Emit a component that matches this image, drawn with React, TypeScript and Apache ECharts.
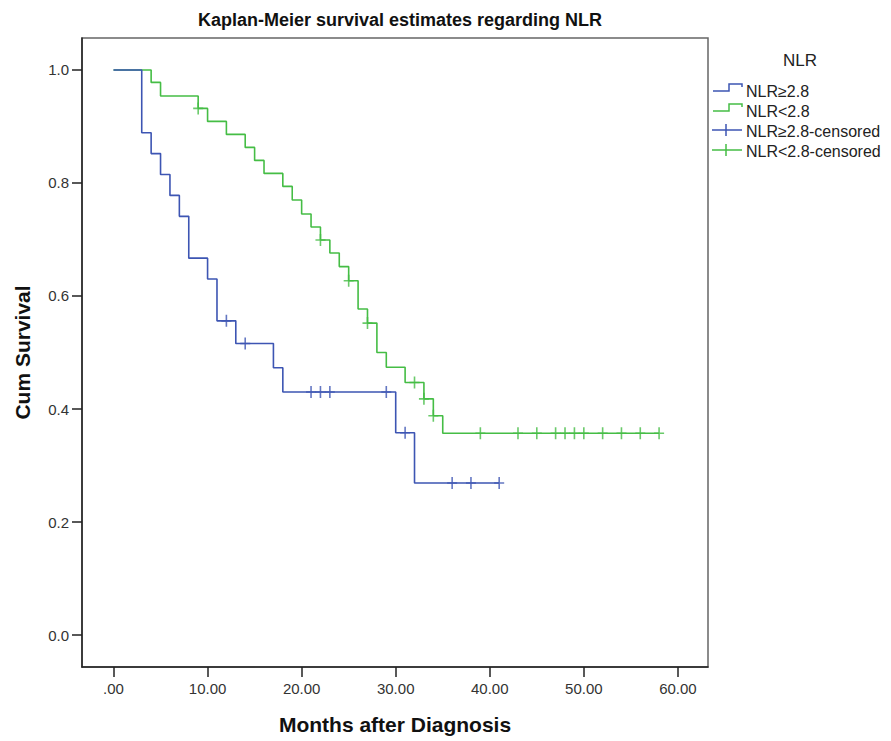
import React, { useEffect, useRef } from "react";
import * as echarts from "echarts";

const xTicks = [0, 10, 20, 30, 40, 50, 60];
const yTicks = [0, 0.2, 0.4, 0.6, 0.8, 1.0];

const chartTitle = "Kaplan-Meier survival estimates regarding NLR";
const xTitle = "Months after Diagnosis";
const yTitle = "Cum Survival";
const legendTitle = "NLR";

const highName = "NLR≥2.8";
const highTimes = [0, 3, 4, 5, 6, 7, 8, 10, 11, 13, 17, 18, 30, 32, 41];
const highSurv = [1, 0.889, 0.852, 0.815, 0.778, 0.741, 0.667, 0.63, 0.556, 0.516, 0.473, 0.43, 0.358, 0.269, 0.269];
const highCensored = [12, 14, 21, 22, 23, 29, 31, 36, 38, 41];

const lowName = "NLR<2.8";
const lowTimes = [0, 4, 5, 9, 10, 12, 14, 15, 16, 18, 19, 20, 21, 22, 23, 24, 25, 26, 27, 28, 29, 31, 33, 34, 35, 58];
const lowSurv = [1, 0.978, 0.954, 0.932, 0.909, 0.886, 0.863, 0.84, 0.817, 0.794, 0.77, 0.745, 0.722, 0.699, 0.676, 0.652, 0.627, 0.577, 0.552, 0.5, 0.474, 0.447, 0.418, 0.388, 0.357, 0.357];
const lowCensored = [9, 22, 25, 27, 32, 33, 34, 39, 43, 45, 47, 48, 49, 50, 52, 54, 56, 58];

const BLUE = "#3d55b3";
const GREEN = "#45bd45";
const FONT = "'Liberation Sans', Arial, sans-serif";
const CROSS = "path://M-0.8,-6 H0.8 V-0.8 H5 V0.8 H0.8 V6 H-0.8 V0.8 H-5 V-0.8 H-0.8 Z";

function survAt(times: number[], surv: number[], t: number): number {
  let v = surv[0];
  for (let i = 0; i < times.length; i++) {
    if (times[i] <= t) v = surv[i];
  }
  return v;
}

function legendRows() {
  const rows = [
    { name: highName, color: BLUE, kind: "step" },
    { name: lowName, color: GREEN, kind: "step" },
    { name: highName + "-censored", color: BLUE, kind: "cross" },
    { name: lowName + "-censored", color: GREEN, kind: "cross" },
  ];
  const els: any[] = [
    {
      type: "text",
      x: 800,
      y: 60,
      style: { text: legendTitle, fontSize: 17, fontFamily: FONT, fill: "#222", align: "center", verticalAlign: "middle" },
    },
  ];
  rows.forEach((r, i) => {
    const y = 91 + i * 20;
    if (r.kind === "step") {
      els.push({
        type: "polyline",
        shape: { points: [[713, y], [729, y], [729, y - 7], [742, y - 7], [742, y - 4]] },
        style: { stroke: r.color, lineWidth: 1.5, fill: "none" },
      });
    } else {
      els.push({ type: "line", shape: { x1: 712, y1: y - 1, x2: 742, y2: y - 1 }, style: { stroke: r.color, lineWidth: 1.5 } });
      els.push({ type: "line", shape: { x1: 726, y1: y - 7, x2: 726, y2: y + 5 }, style: { stroke: r.color, lineWidth: 1.5 } });
    }
    els.push({
      type: "text",
      x: 746,
      y: y,
      style: { text: r.name, fontSize: 16, fontFamily: FONT, fill: "#222", align: "left", verticalAlign: "middle" },
    });
  });
  return els;
}

export default function App() {
  const ref = useRef<HTMLDivElement>(null);
  useEffect(() => {
    if (!ref.current) return;
    const chart = echarts.init(ref.current, null, { renderer: "svg" });
    const highLine = highTimes.map((t, i) => [t, highSurv[i]]);
    const lowLine = lowTimes.map((t, i) => [t, lowSurv[i]]);
    const highCens = highCensored.map((t) => [t, survAt(highTimes, highSurv, t)]);
    const lowCens = lowCensored.map((t) => [t, survAt(lowTimes, lowSurv, t)]);
    chart.setOption({
      animation: false,
      backgroundColor: "#ffffff",
      grid: { left: 82, right: 183, top: 38, bottom: 74, show: true, borderColor: "#666", borderWidth: 1.5, backgroundColor: "transparent" },
      xAxis: {
        type: "value",
        min: -3.35,
        max: 63.2,
        name: xTitle,
        nameLocation: "middle",
        nameGap: 47,
        nameTextStyle: { fontSize: 21, fontWeight: "bold", fontFamily: FONT, color: "#111" },
        axisLine: { show: true, onZero: false, lineStyle: { color: "#222", width: 1.5 } },
        axisTick: { show: true, customValues: xTicks, length: 10, lineStyle: { color: "#222", width: 1.5 } },
        axisLabel: {
          customValues: xTicks,
          margin: 14,
          fontSize: 15,
          fontFamily: FONT,
          color: "#333",
          formatter: (v: number) => (v === 0 ? ".00" : v.toFixed(2)),
        },
        splitLine: { show: false },
      },
      yAxis: {
        type: "value",
        min: -0.0566,
        max: 1.0566,
        name: yTitle,
        nameLocation: "middle",
        nameGap: 49,
        nameRotate: 90,
        nameTextStyle: { fontSize: 21, fontWeight: "bold", fontFamily: FONT, color: "#111" },
        axisLine: { show: true, onZero: false, lineStyle: { color: "#222", width: 1.5 } },
        axisTick: { show: true, customValues: yTicks, length: 10, lineStyle: { color: "#222", width: 1.5 } },
        axisLabel: {
          customValues: yTicks,
          margin: 13,
          fontSize: 15,
          fontFamily: FONT,
          color: "#333",
          formatter: (v: number) => v.toFixed(1),
        },
        splitLine: { show: false },
      },
      series: [
        {
          name: highName,
          type: "line",
          step: "end",
          data: highLine,
          showSymbol: false,
          lineStyle: { color: BLUE, width: 1.6 },
          itemStyle: { color: BLUE },
          z: 3,
        },
        {
          name: lowName,
          type: "line",
          step: "end",
          data: lowLine,
          showSymbol: false,
          lineStyle: { color: GREEN, width: 1.6 },
          itemStyle: { color: GREEN },
          z: 2,
        },
        {
          name: highName + "-censored",
          type: "scatter",
          data: highCens,
          symbol: CROSS,
          symbolSize: [10, 12],
          itemStyle: { color: BLUE },
          z: 4,
        },
        {
          name: lowName + "-censored",
          type: "scatter",
          data: lowCens,
          symbol: CROSS,
          symbolSize: [10, 12],
          itemStyle: { color: GREEN },
          z: 4,
        },
      ],
      graphic: [
        {
          type: "text",
          x: 400,
          y: 20,
          style: { text: chartTitle, fontSize: 18, fontWeight: "bold", fontFamily: FONT, fill: "#111", align: "center", verticalAlign: "middle" },
        },
        ...legendRows(),
      ],
    });
    return () => chart.dispose();
  }, []);
  return <div ref={ref} style={{ position: "fixed", left: 0, top: 0, width: 891, height: 741 }} />;
}
